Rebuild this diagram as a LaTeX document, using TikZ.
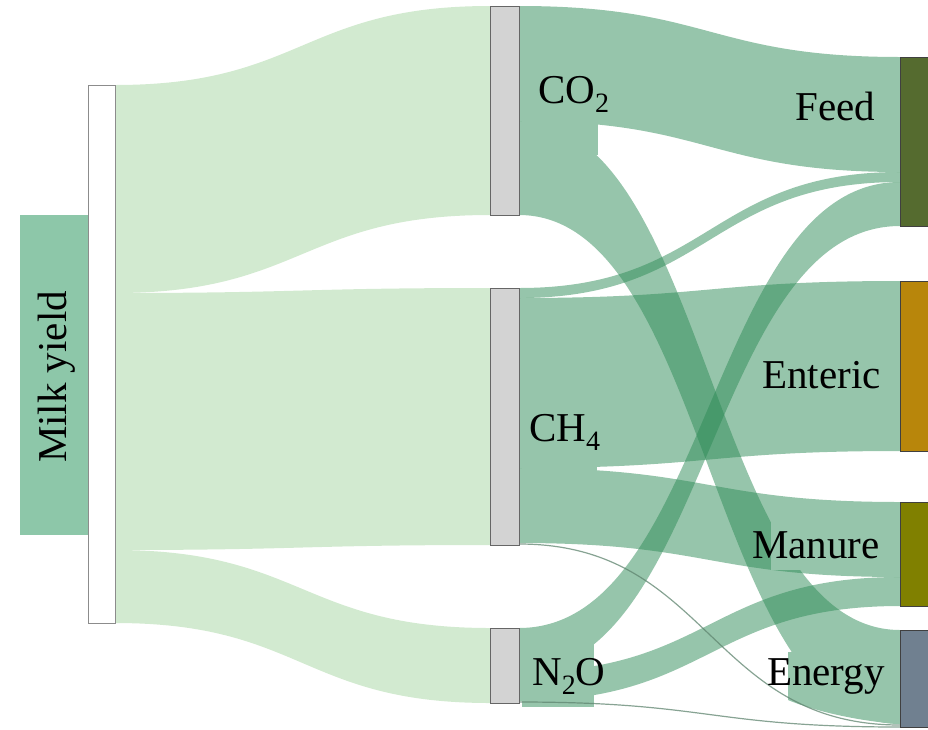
\documentclass[tikz,border=0pt]{standalone}
\usepackage{fontspec}
\setmainfont{Liberation Serif}
\definecolor{sg}{RGB}{46,139,87}
\definecolor{sgl}{RGB}{150,197,171}
\definecolor{milkl}{RGB}{210,234,208}
\definecolor{labbox}{RGB}{141,199,169}
\definecolor{gasbar}{RGB}{211,211,211}
\definecolor{feedc}{RGB}{85,107,47}
\definecolor{entc}{RGB}{184,134,11}
\definecolor{manc}{RGB}{128,128,0}
\definecolor{enec}{RGB}{112,128,144}
\newcommand\sband[7]{%
  \pgfmathsetmacro\xm{(#1+#4)/2}%
  \fill[#7] (#1,#2) .. controls (\xm,#2) and (\xm,#5) .. (#4,#5) -- (#4,#6) .. controls (\xm,#6) and (\xm,#3) .. (#1,#3) -- cycle;}
\newcommand\thinband[5]{%
  \pgfmathsetmacro\xm{(#1+#3)/2}%
  \draw[#5] (#1,#2) .. controls (\xm,#2) and (\xm,#4) .. (#3,#4);}
\newcommand\gsub[1]{{\fontsize{28}{28}\selectfont\raisebox{-9pt}{#1}}}
\begin{document}
\begin{tikzpicture}[x=1pt,y=-1pt,
  milkband/.style={fill=milkl},
  gasband/.style={fill=sg,fill opacity=0.5},
  thinlink/.style={draw=sg!40!gray,line width=1.2pt,opacity=0.75},
  labelbox/.style={fill=sgl,draw=none},
  gasnode/.style={fill=gasbar,draw=black!60,line width=1pt},
  catnode/.style={draw=black!75,line width=1pt},
  lab/.style={font=\fontsize{41}{41}\selectfont,inner sep=0pt,anchor=base west}]
\useasboundingbox (0,0) rectangle (928,729);
% links from milk yield
\sband{115}{85}{293}{490}{6}{215}{milkband}
\sband{115}{293}{550}{490}{288}{545}{milkband}
\sband{115}{550}{623}{490}{628}{703}{milkband}
% links from gases
\sband{519}{6}{121}{900}{57}{172}{gasband}
\sband{519}{121}{215}{900}{630}{724}{gasband}
\sband{519}{288}{298}{900}{172}{182}{gasband}
\sband{519}{298}{468}{900}{281}{451}{gasband}
\sband{519}{468}{543}{900}{502}{577}{gasband}
\sband{519}{628}{672}{900}{182}{226}{gasband}
\sband{519}{672}{701}{900}{577}{606}{gasband}
% label boxes
\fill[labelbox] (522,60) rectangle (598,155);
\fill[labelbox] (522,400) rectangle (597,475);
\fill[labelbox] (522,635) rectangle (594,707);
\fill[labelbox] (771,520) rectangle (893,570);
\fill[labelbox] (788,652) -- (900,652) -- (900,724) .. controls (855,721) and (812,710) .. (788,700) -- cycle;
% thin links
\thinband{519}{544}{900}{725}{thinlink}
\thinband{519}{702}{900}{727}{thinlink}
% label box of milk yield
\node[fill=labbox,minimum width=68pt,minimum height=320pt,inner sep=0pt,anchor=north west] (milkbox) at (20,215) {};
% bars
\node[fill=white,draw=black!45,line width=1pt,minimum width=27pt,minimum height=538pt,inner sep=0pt,anchor=north west] (milk) at (88,85) {};
\node[gasnode,minimum width=29pt,minimum height=209pt,inner sep=0pt,anchor=north west] (co2) at (490,6) {};
\node[gasnode,minimum width=29pt,minimum height=257pt,inner sep=0pt,anchor=north west] (ch4) at (490,288) {};
\node[gasnode,minimum width=29pt,minimum height=75pt,inner sep=0pt,anchor=north west] (n2o) at (490,628) {};
\node[catnode,fill=feedc,minimum width=40pt,minimum height=169pt,inner sep=0pt,anchor=north west] (feed) at (900,57) {};
\node[catnode,fill=entc,minimum width=40pt,minimum height=170pt,inner sep=0pt,anchor=north west] (enteric) at (900,281) {};
\node[catnode,fill=manc,minimum width=40pt,minimum height=104pt,inner sep=0pt,anchor=north west] (manure) at (900,502) {};
\node[catnode,fill=enec,minimum width=40pt,minimum height=97pt,inner sep=0pt,anchor=north west] (energy) at (900,630) {};
% texts
\node[lab,anchor=base,rotate=90] (tmilk) at (66,377) {Milk yield};
\node[lab] (tco2) at (538,103) {CO\gsub{2}};
\node[lab] (tch4) at (529,441) {CH\gsub{4}};
\node[lab] (tn2o) at (532,685) {N\gsub{2}O};
\node[lab] (tfeed) at (795,120) {Feed};
\node[lab] (tent) at (762,388) {Enteric};
\node[lab] (tman) at (752,558) {Manure};
\node[lab] (tene) at (767,685) {Energy};
\end{tikzpicture}
\end{document}
